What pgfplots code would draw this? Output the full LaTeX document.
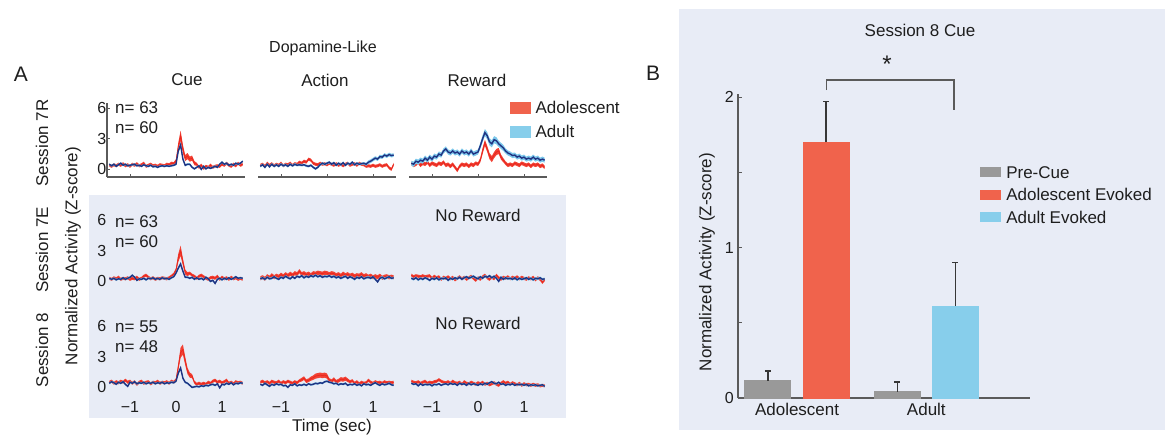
\documentclass[border=0pt]{standalone}
\usepackage{pgfplots}
\pgfplotsset{compat=1.18}
\usepackage{pgfplotstable}
\usepgfplotslibrary{fillbetween}
\usepackage{fontspec}
\setmainfont{Liberation Sans}
\definecolor{bg}{RGB}{232,236,246}
\definecolor{redband}{RGB}{242,66,52}
\definecolor{redline}{RGB}{232,40,32}
\definecolor{blueband}{RGB}{125,200,235}
\definecolor{navy}{RGB}{32,50,130}
\definecolor{axcol}{RGB}{90,90,90}
\definecolor{barred}{RGB}{240,99,76}
\definecolor{barblue}{RGB}{135,206,235}
\definecolor{bargray}{RGB}{153,153,153}
\definecolor{errcol}{RGB}{55,55,55}
\definecolor{txt}{RGB}{30,30,30}
\newcommand{\fs}[1]{\fontsize{#1}{#1}\selectfont}
\newcommand{\tk}[1]{{\fs{16}#1}}
\tikzset{fill between/on layer=main}

% t r rs b bs
\pgfplotstableread{
t r rs b bs
-1.45 0.40 0.15 0.50 0.10
-1.40 0.30 0.15 0.35 0.10
-1.35 0.45 0.15 0.50 0.10
-1.30 0.35 0.15 0.30 0.10
-1.25 0.50 0.15 0.45 0.10
-1.20 0.40 0.15 0.60 0.10
-1.15 0.55 0.15 0.40 0.10
-1.10 0.35 0.15 0.50 0.10
-1.05 0.45 0.15 0.35 0.10
-1.00 0.30 0.15 0.40 0.10
-0.95 0.50 0.15 0.45 0.10
-0.90 0.40 0.15 0.50 0.10
-0.85 0.55 0.15 0.35 0.10
-0.80 0.35 0.15 0.40 0.10
-0.75 0.45 0.15 0.30 0.10
-0.70 0.60 0.15 0.45 0.10
-0.65 0.30 0.15 0.35 0.10
-0.60 0.40 0.15 0.30 0.10
-0.55 0.50 0.15 0.40 0.10
-0.50 0.35 0.15 0.25 0.10
-0.45 0.40 0.15 0.30 0.10
-0.40 0.30 0.15 0.20 0.10
-0.35 0.45 0.15 0.30 0.10
-0.30 0.40 0.15 0.35 0.10
-0.25 0.35 0.15 0.30 0.10
-0.20 0.50 0.15 0.35 0.10
-0.15 0.45 0.15 0.30 0.10
-0.10 0.60 0.15 0.35 0.10
-0.05 0.55 0.15 0.40 0.10
0.00 0.80 0.20 0.50 0.12
0.05 2.20 0.40 1.80 0.20
0.10 3.30 0.50 2.40 0.25
0.15 2.00 0.40 1.00 0.20
0.20 1.10 0.30 0.40 0.12
0.25 1.30 0.30 0.50 0.10
0.30 1.00 0.25 0.50 0.10
0.35 1.10 0.25 0.20 0.10
0.40 0.60 0.20 0.05 0.10
0.45 0.50 0.15 0.20 0.10
0.50 0.20 0.15 0.35 0.10
0.55 0.40 0.15 0.00 0.10
0.60 0.10 0.15 0.30 0.10
0.65 0.30 0.15 0.05 0.10
0.70 0.20 0.15 0.20 0.10
0.75 0.40 0.15 0.10 0.10
0.80 0.20 0.15 0.20 0.10
0.85 0.30 0.15 0.30 0.10
0.90 0.35 0.15 0.20 0.10
0.95 0.30 0.15 0.50 0.10
1.00 0.50 0.15 0.70 0.10
1.05 0.40 0.15 0.50 0.10
1.10 0.60 0.15 0.60 0.10
1.15 0.40 0.15 0.40 0.10
1.20 0.30 0.15 0.50 0.10
1.25 0.50 0.15 0.40 0.10
1.30 0.35 0.15 0.60 0.10
1.35 0.60 0.15 0.50 0.10
1.40 0.40 0.15 0.60 0.10
1.45 0.50 0.15 0.80 0.10
}\tAA

\pgfplotstableread{
t r rs b bs
-1.45 0.40 0.15 0.30 0.12
-1.40 0.50 0.15 0.45 0.12
-1.35 0.30 0.15 0.20 0.12
-1.30 0.60 0.15 0.50 0.12
-1.25 0.40 0.15 0.25 0.12
-1.20 0.55 0.15 0.50 0.12
-1.15 0.35 0.15 0.30 0.12
-1.10 0.50 0.15 0.45 0.12
-1.05 0.40 0.15 0.30 0.12
-1.00 0.60 0.15 0.50 0.12
-0.95 0.35 0.15 0.35 0.12
-0.90 0.50 0.15 0.45 0.12
-0.85 0.45 0.15 0.30 0.12
-0.80 0.60 0.15 0.50 0.12
-0.75 0.40 0.15 0.35 0.12
-0.70 0.55 0.15 0.50 0.12
-0.65 0.50 0.15 0.40 0.12
-0.60 0.70 0.15 0.45 0.12
-0.55 0.60 0.15 0.40 0.12
-0.50 0.80 0.15 0.45 0.12
-0.45 0.70 0.15 0.35 0.12
-0.40 1.00 0.15 0.30 0.12
-0.35 0.90 0.15 0.40 0.12
-0.30 0.60 0.15 0.20 0.12
-0.25 0.50 0.15 0.05 0.12
-0.20 0.45 0.15 0.20 0.12
-0.15 0.60 0.15 0.45 0.12
-0.10 0.50 0.15 0.60 0.12
-0.05 0.55 0.15 0.50 0.12
0.00 0.45 0.15 0.60 0.12
0.05 0.60 0.15 0.70 0.12
0.10 0.50 0.15 0.50 0.12
0.15 0.40 0.15 0.65 0.12
0.20 0.55 0.15 0.40 0.12
0.25 0.40 0.15 0.60 0.12
0.30 0.50 0.15 0.45 0.12
0.35 0.35 0.15 0.65 0.12
0.40 0.50 0.15 0.40 0.12
0.45 0.60 0.15 0.60 0.12
0.50 0.40 0.15 0.50 0.12
0.55 0.50 0.15 0.70 0.12
0.60 0.55 0.15 0.45 0.12
0.65 0.40 0.15 0.60 0.12
0.70 0.60 0.15 0.50 0.12
0.75 0.50 0.15 0.55 0.12
0.80 0.45 0.15 0.60 0.12
0.85 0.30 0.15 0.50 0.15
0.90 0.35 0.15 0.70 0.18
0.95 0.30 0.15 0.80 0.18
1.00 0.40 0.15 0.95 0.18
1.05 0.30 0.15 1.10 0.18
1.10 0.35 0.15 1.00 0.18
1.15 0.45 0.15 1.25 0.18
1.20 0.30 0.15 1.20 0.18
1.25 0.40 0.15 1.40 0.18
1.30 0.45 0.15 1.30 0.18
1.35 0.15 0.15 1.45 0.18
1.40 0.00 0.15 1.35 0.18
1.45 0.50 0.15 1.40 0.18
}\tAB

\pgfplotstableread{
t r rs b bs
-1.45 0.60 0.18 0.60 0.25
-1.40 0.40 0.18 0.50 0.25
-1.35 0.50 0.18 0.80 0.25
-1.30 0.70 0.18 0.70 0.25
-1.25 0.40 0.18 0.90 0.25
-1.20 0.60 0.18 0.80 0.25
-1.15 0.50 0.18 1.10 0.25
-1.10 0.70 0.18 0.90 0.25
-1.05 0.40 0.18 1.20 0.25
-1.00 0.60 0.18 1.00 0.25
-0.95 0.50 0.18 1.30 0.25
-0.90 0.40 0.18 1.20 0.25
-0.85 0.60 0.18 1.50 0.25
-0.80 0.50 0.18 1.40 0.25
-0.75 0.70 0.18 1.80 0.25
-0.70 0.40 0.18 2.00 0.25
-0.65 0.50 0.18 1.70 0.25
-0.60 0.30 0.18 1.60 0.25
-0.55 0.50 0.18 1.80 0.25
-0.50 0.20 0.18 1.60 0.25
-0.45 -0.10 0.18 1.70 0.25
-0.40 0.30 0.18 1.50 0.25
-0.35 0.50 0.18 1.80 0.25
-0.30 0.40 0.18 1.60 0.25
-0.25 0.50 0.18 1.70 0.25
-0.20 0.30 0.18 1.50 0.25
-0.15 0.50 0.18 1.80 0.25
-0.10 0.40 0.18 1.50 0.25
-0.05 0.60 0.18 1.60 0.25
0.00 0.50 0.18 1.70 0.25
0.05 0.90 0.22 2.30 0.30
0.10 1.80 0.30 3.00 0.35
0.15 2.60 0.30 3.60 0.35
0.20 2.00 0.30 3.30 0.35
0.25 1.30 0.30 2.70 0.35
0.30 1.00 0.30 2.50 0.35
0.35 1.40 0.30 2.90 0.35
0.40 1.70 0.30 2.80 0.35
0.45 1.80 0.30 2.50 0.30
0.50 1.20 0.25 2.30 0.30
0.55 0.90 0.20 2.10 0.30
0.60 0.60 0.18 1.80 0.25
0.65 0.40 0.18 1.60 0.25
0.70 0.50 0.18 1.50 0.25
0.75 0.40 0.18 1.35 0.25
0.80 0.60 0.18 1.40 0.25
0.85 0.50 0.18 1.20 0.25
0.90 0.40 0.18 1.30 0.25
0.95 0.60 0.18 1.10 0.25
1.00 0.50 0.18 1.20 0.25
1.05 0.40 0.18 1.00 0.25
1.10 0.50 0.18 1.10 0.25
1.15 0.30 0.18 1.00 0.25
1.20 0.50 0.18 1.20 0.25
1.25 0.40 0.18 1.00 0.25
1.30 0.50 0.18 1.10 0.25
1.35 0.30 0.18 0.90 0.25
1.40 0.40 0.18 1.00 0.25
1.45 0.20 0.18 0.90 0.25
}\tAC

\pgfplotstableread{
t r rs b bs
-1.45 0.30 0.15 0.30 0.10
-1.40 0.20 0.15 0.20 0.10
-1.35 0.35 0.15 0.30 0.10
-1.30 0.25 0.15 0.15 0.10
-1.25 0.40 0.15 0.25 0.10
-1.20 0.20 0.15 0.20 0.10
-1.15 0.30 0.15 0.35 0.10
-1.10 0.25 0.15 0.20 0.10
-1.05 0.35 0.15 0.30 0.10
-1.00 0.20 0.15 0.40 0.10
-0.95 0.30 0.15 0.60 0.10
-0.90 0.25 0.15 0.40 0.10
-0.85 0.40 0.15 0.10 0.10
-0.80 0.20 0.15 0.25 0.10
-0.75 0.30 0.15 0.20 0.10
-0.70 0.50 0.15 0.30 0.10
-0.65 0.60 0.15 0.15 0.10
-0.60 0.40 0.15 0.30 0.10
-0.55 0.25 0.15 0.25 0.10
-0.50 0.35 0.15 0.35 0.10
-0.45 0.20 0.15 0.20 0.10
-0.40 0.30 0.15 0.30 0.10
-0.35 0.25 0.15 0.20 0.10
-0.30 0.35 0.15 0.35 0.10
-0.25 0.30 0.15 0.25 0.10
-0.20 0.25 0.15 0.30 0.10
-0.15 0.35 0.15 0.20 0.10
-0.10 0.50 0.15 0.35 0.10
-0.05 0.70 0.15 0.45 0.10
0.00 1.10 0.20 0.80 0.12
0.05 2.30 0.40 1.30 0.15
0.10 3.00 0.50 1.70 0.20
0.15 1.90 0.35 1.00 0.15
0.20 0.90 0.25 0.40 0.10
0.25 0.70 0.20 0.40 0.10
0.30 0.80 0.15 0.30 0.10
0.35 0.60 0.15 0.40 0.10
0.40 0.50 0.15 0.20 0.10
0.45 0.30 0.15 0.35 0.10
0.50 0.50 0.15 0.20 0.10
0.55 0.60 0.15 0.30 0.10
0.60 0.45 0.15 0.15 0.10
0.65 0.30 0.15 0.40 0.10
0.70 0.20 0.15 0.25 0.10
0.75 0.35 0.15 0.00 0.10
0.80 0.40 0.15 0.10 0.10
0.85 0.30 0.15 -0.20 0.10
0.90 0.50 0.15 0.20 0.10
0.95 0.20 0.15 0.30 0.10
1.00 0.40 0.15 0.15 0.10
1.05 0.25 0.15 0.30 0.10
1.10 0.35 0.15 0.20 0.10
1.15 0.20 0.15 0.35 0.10
1.20 0.40 0.15 0.20 0.10
1.25 0.25 0.15 0.30 0.10
1.30 0.35 0.15 0.45 0.10
1.35 0.20 0.15 0.30 0.10
1.40 0.30 0.15 0.35 0.10
1.45 0.20 0.15 0.30 0.10
}\tBA

\pgfplotstableread{
t r rs b bs
-1.45 0.30 0.20 0.25 0.12
-1.40 0.40 0.20 0.35 0.12
-1.35 0.25 0.20 0.20 0.12
-1.30 0.50 0.20 0.40 0.12
-1.25 0.35 0.20 0.25 0.12
-1.20 0.60 0.20 0.30 0.12
-1.15 0.40 0.20 0.45 0.12
-1.10 0.55 0.20 0.30 0.12
-1.05 0.45 0.20 0.20 0.12
-1.00 0.65 0.20 0.40 0.12
-0.95 0.50 0.20 0.30 0.12
-0.90 0.70 0.20 0.50 0.12
-0.85 0.55 0.20 0.35 0.12
-0.80 0.75 0.20 0.25 0.12
-0.75 0.60 0.20 0.45 0.12
-0.70 0.80 0.20 0.30 0.12
-0.65 0.70 0.20 0.50 0.12
-0.60 1.00 0.20 0.40 0.12
-0.55 0.70 0.20 0.55 0.12
-0.50 0.80 0.20 0.35 0.12
-0.45 0.65 0.20 0.50 0.12
-0.40 0.75 0.20 0.40 0.12
-0.35 0.60 0.20 0.55 0.12
-0.30 0.80 0.20 0.45 0.12
-0.25 0.75 0.20 0.60 0.12
-0.20 0.85 0.20 0.45 0.12
-0.15 0.80 0.20 0.55 0.12
-0.10 0.75 0.20 0.40 0.12
-0.05 0.85 0.20 0.50 0.12
0.00 0.80 0.20 0.45 0.12
0.05 0.70 0.20 0.55 0.12
0.10 0.80 0.20 0.40 0.12
0.15 0.75 0.20 0.50 0.12
0.20 0.60 0.20 0.35 0.12
0.25 0.70 0.20 0.45 0.12
0.30 0.55 0.20 0.30 0.12
0.35 0.75 0.20 0.40 0.12
0.40 0.60 0.20 0.50 0.12
0.45 0.70 0.20 0.30 0.12
0.50 0.55 0.20 0.45 0.12
0.55 0.65 0.20 0.35 0.12
0.60 0.50 0.20 0.20 0.12
0.65 0.60 0.20 0.40 0.12
0.70 0.55 0.20 0.30 0.12
0.75 0.70 0.20 0.45 0.12
0.80 0.50 0.20 0.25 0.12
0.85 0.60 0.20 0.35 0.12
0.90 0.45 0.20 0.40 0.12
0.95 0.55 0.20 0.30 0.12
1.00 0.40 0.20 0.45 0.12
1.05 0.50 0.20 0.20 0.12
1.10 0.40 0.20 -0.05 0.12
1.15 0.55 0.20 0.30 0.12
1.20 0.35 0.20 0.40 0.12
1.25 0.45 0.20 0.25 0.12
1.30 0.50 0.20 0.35 0.12
1.35 0.40 0.20 0.45 0.12
1.40 0.45 0.20 0.30 0.12
1.45 0.40 0.20 0.35 0.12
}\tBB

\pgfplotstableread{
t r rs b bs
-1.45 0.60 0.15 0.30 0.12
-1.40 0.45 0.15 0.20 0.12
-1.35 0.55 0.15 0.35 0.12
-1.30 0.50 0.15 0.15 0.12
-1.25 0.45 0.15 0.30 0.12
-1.20 0.55 0.15 0.20 0.12
-1.15 0.45 0.15 0.35 0.12
-1.10 0.50 0.15 0.25 0.12
-1.05 0.55 0.15 0.10 0.12
-1.00 0.30 0.15 0.30 0.12
-0.95 0.50 0.15 0.20 0.12
-0.90 0.35 0.15 0.35 0.12
-0.85 0.45 0.15 0.15 0.12
-0.80 0.20 0.15 0.30 0.12
-0.75 0.40 0.15 0.25 0.12
-0.70 0.30 0.15 0.35 0.12
-0.65 0.45 0.15 0.10 0.12
-0.60 0.25 0.15 0.30 0.12
-0.55 0.40 0.15 0.20 0.12
-0.50 0.15 0.15 0.35 0.12
-0.45 0.30 0.15 0.25 0.12
-0.40 0.45 0.15 0.40 0.12
-0.35 0.25 0.15 0.20 0.12
-0.30 0.40 0.15 0.35 0.12
-0.25 0.20 0.15 0.45 0.12
-0.20 0.35 0.15 0.30 0.12
-0.15 0.50 0.15 0.40 0.12
-0.10 0.30 0.15 0.50 0.12
-0.05 0.10 0.15 0.35 0.12
0.00 0.35 0.15 0.25 0.12
0.05 0.20 0.15 0.45 0.12
0.10 0.45 0.15 0.30 0.12
0.15 0.60 0.15 0.50 0.12
0.20 0.35 0.15 0.40 0.12
0.25 0.20 0.15 0.55 0.12
0.30 0.40 0.15 0.35 0.12
0.35 0.25 0.15 0.50 0.12
0.40 0.60 0.15 0.30 0.12
0.45 0.35 0.15 0.00 0.12
0.50 0.20 0.15 0.40 0.12
0.55 0.40 0.15 0.20 0.12
0.60 0.30 0.15 0.35 0.12
0.65 0.45 0.15 0.25 0.12
0.70 0.25 0.15 0.30 0.12
0.75 0.40 0.15 0.20 0.12
0.80 0.30 0.15 0.35 0.12
0.85 0.45 0.15 0.15 0.12
0.90 0.25 0.15 0.30 0.12
0.95 0.40 0.15 0.20 0.12
1.00 0.30 0.15 0.25 0.12
1.05 0.20 0.15 0.35 0.12
1.10 0.35 0.15 0.20 0.12
1.15 0.25 0.15 0.30 0.12
1.20 0.40 0.15 0.15 0.12
1.25 0.15 0.15 0.30 0.12
1.30 0.35 0.15 0.25 0.12
1.35 0.20 0.15 0.35 0.12
1.40 -0.10 0.15 0.20 0.12
1.45 0.15 0.15 0.25 0.12
}\tBC

\pgfplotstableread{
t r rs b bs
-1.45 0.50 0.15 0.40 0.10
-1.40 0.60 0.15 0.55 0.10
-1.35 0.40 0.15 0.45 0.10
-1.30 0.55 0.15 0.30 0.10
-1.25 0.45 0.15 0.50 0.10
-1.20 0.60 0.15 0.40 0.10
-1.15 0.50 0.15 0.55 0.10
-1.10 0.70 0.15 0.30 0.10
-1.05 0.50 0.15 0.10 0.10
-1.00 0.60 0.15 0.50 0.10
-0.95 0.40 0.15 0.40 0.10
-0.90 0.55 0.15 0.55 0.10
-0.85 0.30 0.15 0.35 0.10
-0.80 0.50 0.15 0.45 0.10
-0.75 0.60 0.15 0.40 0.10
-0.70 0.40 0.15 0.50 0.10
-0.65 0.50 0.15 0.35 0.10
-0.60 0.55 0.15 0.45 0.10
-0.55 0.35 0.15 0.40 0.10
-0.50 0.50 0.15 0.50 0.10
-0.45 0.45 0.15 0.35 0.10
-0.40 0.60 0.15 0.45 0.10
-0.35 0.40 0.15 0.40 0.10
-0.30 0.50 0.15 0.50 0.10
-0.25 0.45 0.15 0.35 0.10
-0.20 0.55 0.15 0.45 0.10
-0.15 0.40 0.15 0.40 0.10
-0.10 0.60 0.15 0.50 0.10
-0.05 0.50 0.15 0.45 0.10
0.00 0.70 0.18 0.60 0.10
0.05 2.00 0.35 1.40 0.15
0.10 3.40 0.50 1.90 0.18
0.15 3.70 0.50 0.90 0.15
0.20 2.60 0.40 0.50 0.10
0.25 1.60 0.30 0.40 0.10
0.30 1.20 0.25 0.20 0.10
0.35 1.10 0.20 0.00 0.10
0.40 0.50 0.15 0.05 0.10
0.45 0.30 0.15 0.10 0.10
0.50 0.40 0.15 0.05 0.10
0.55 0.30 0.15 0.15 0.10
0.60 0.40 0.15 0.10 0.10
0.65 0.30 0.15 0.20 0.10
0.70 0.50 0.15 0.15 0.10
0.75 0.40 0.15 0.25 0.10
0.80 0.60 0.15 0.30 0.10
0.85 0.70 0.15 0.20 0.10
0.90 0.50 0.15 0.35 0.10
0.95 0.60 0.15 -0.05 0.10
1.00 0.45 0.15 0.30 0.10
1.05 0.55 0.15 0.25 0.10
1.10 0.70 0.15 0.40 0.10
1.15 0.40 0.15 0.30 0.10
1.20 0.50 0.15 0.45 0.10
1.25 0.35 0.15 0.25 0.10
1.30 0.55 0.15 0.40 0.10
1.35 0.45 0.15 0.35 0.10
1.40 0.50 0.15 0.45 0.10
1.45 0.40 0.15 0.40 0.10
}\tCA

\pgfplotstableread{
t r rs b bs
-1.45 0.50 0.15 0.30 0.10
-1.40 0.60 0.15 0.20 0.10
-1.35 0.45 0.15 0.40 0.10
-1.30 0.55 0.15 0.25 0.10
-1.25 0.40 0.15 0.10 0.10
-1.20 0.60 0.15 0.30 0.10
-1.15 0.50 0.15 0.20 0.10
-1.10 0.45 0.15 0.35 0.10
-1.05 0.60 0.15 0.25 0.10
-1.00 0.40 0.15 0.30 0.10
-0.95 0.55 0.15 0.15 0.10
-0.90 0.45 0.15 0.20 0.10
-0.85 0.60 0.15 0.00 0.10
-0.80 0.50 0.15 0.25 0.10
-0.75 0.40 0.15 0.20 0.10
-0.70 0.55 0.15 0.35 0.10
-0.65 0.45 0.15 0.15 0.10
-0.60 0.65 0.15 0.25 0.10
-0.55 0.75 0.18 0.20 0.10
-0.50 0.90 0.18 0.30 0.10
-0.45 0.60 0.18 0.20 0.10
-0.40 0.70 0.18 0.35 0.10
-0.35 0.85 0.20 0.25 0.10
-0.30 0.95 0.22 0.30 0.10
-0.25 1.10 0.25 0.40 0.10
-0.20 1.15 0.25 0.35 0.10
-0.15 1.20 0.25 0.45 0.10
-0.10 1.15 0.25 0.40 0.10
-0.05 1.20 0.25 0.55 0.10
0.00 1.10 0.25 0.60 0.10
0.05 0.70 0.20 0.50 0.10
0.10 0.60 0.18 0.45 0.10
0.15 0.80 0.18 0.35 0.10
0.20 0.55 0.18 0.40 0.10
0.25 0.65 0.18 0.25 0.10
0.30 0.80 0.20 0.35 0.10
0.35 0.75 0.20 0.30 0.10
0.40 0.85 0.20 0.40 0.10
0.45 0.70 0.18 0.20 0.10
0.50 0.55 0.15 0.30 0.10
0.55 0.65 0.15 0.25 0.10
0.60 0.40 0.15 0.35 0.10
0.65 0.55 0.15 0.20 0.10
0.70 0.35 0.15 0.30 0.10
0.75 0.50 0.15 0.15 0.10
0.80 0.40 0.15 0.35 0.10
0.85 0.45 0.15 0.25 0.10
0.90 0.70 0.15 0.30 0.10
0.95 0.50 0.15 0.20 0.10
1.00 0.40 0.15 0.35 0.10
1.05 0.55 0.15 0.45 0.10
1.10 0.45 0.15 0.30 0.10
1.15 0.50 0.15 0.20 0.10
1.20 0.40 0.15 0.35 0.10
1.25 0.55 0.15 0.25 0.10
1.30 0.45 0.15 0.30 0.10
1.35 0.50 0.15 0.40 0.10
1.40 0.45 0.15 0.25 0.10
1.45 0.50 0.15 0.20 0.10
}\tCB

\pgfplotstableread{
t r rs b bs
-1.45 0.60 0.15 0.40 0.10
-1.40 0.50 0.15 0.30 0.10
-1.35 0.45 0.15 0.35 0.10
-1.30 0.55 0.15 0.15 0.10
-1.25 0.40 0.15 0.35 0.10
-1.20 0.50 0.15 0.20 0.10
-1.15 0.60 0.15 0.30 0.10
-1.10 0.40 0.15 0.25 0.10
-1.05 0.50 0.15 0.30 0.10
-1.00 0.45 0.15 0.15 0.10
-0.95 0.55 0.15 0.30 0.10
-0.90 0.60 0.15 0.25 0.10
-0.85 0.75 0.15 0.35 0.10
-0.80 0.60 0.15 0.20 0.10
-0.75 0.50 0.15 0.30 0.10
-0.70 0.45 0.15 0.35 0.10
-0.65 0.55 0.15 0.25 0.10
-0.60 0.40 0.15 0.40 0.10
-0.55 0.60 0.15 0.30 0.10
-0.50 0.45 0.15 0.35 0.10
-0.45 0.40 0.15 0.20 0.10
-0.40 0.50 0.15 0.40 0.10
-0.35 0.30 0.15 0.30 0.10
-0.30 0.55 0.15 0.35 0.10
-0.25 0.40 0.15 0.20 0.10
-0.20 0.35 0.15 0.40 0.10
-0.15 0.50 0.15 0.25 0.10
-0.10 0.40 0.15 0.35 0.10
-0.05 0.30 0.15 0.30 0.10
0.00 0.45 0.15 0.20 0.10
0.05 0.35 0.15 0.35 0.10
0.10 0.50 0.15 0.25 0.10
0.15 0.30 0.15 0.40 0.10
0.20 0.40 0.15 0.30 0.10
0.25 0.25 0.15 0.45 0.10
0.30 0.35 0.15 0.55 0.10
0.35 0.45 0.15 0.40 0.10
0.40 0.30 0.15 0.35 0.10
0.45 0.20 0.15 0.50 0.10
0.50 0.40 0.15 0.30 0.10
0.55 0.55 0.15 0.35 0.10
0.60 0.40 0.15 0.20 0.10
0.65 0.50 0.15 0.30 0.10
0.70 0.30 0.15 0.25 0.10
0.75 0.45 0.15 0.35 0.10
0.80 0.35 0.15 0.20 0.10
0.85 0.25 0.15 0.30 0.10
0.90 0.40 0.15 0.25 0.10
0.95 0.20 0.15 0.30 0.10
1.00 0.35 0.15 0.20 0.10
1.05 0.25 0.15 0.30 0.10
1.10 0.30 0.15 0.15 0.10
1.15 0.20 0.15 0.25 0.10
1.20 0.30 0.15 0.20 0.10
1.25 0.20 0.15 0.25 0.10
1.30 0.25 0.15 0.15 0.10
1.35 0.15 0.15 0.20 0.10
1.40 0.20 0.15 0.25 0.10
1.45 0.15 0.15 0.10 0.10
}\tCC

\pgfplotstableread{
x y e
0.775 0.113 0.067
1.775 0.040 0.066
}\preCue
\pgfplotstableread{
x y e
1.225 1.700 0.270
}\adoEv
\pgfplotstableread{
x y e
2.225 0.610 0.290
}\adtEv

% #1 table, #2 unique prefix for path names
\newcommand{\traces}[2]{%
  \addplot[draw=none, name path=#2ru, forget plot] table[x=t, y expr=\thisrow{r}+\thisrow{rs}] {#1};
  \addplot[draw=none, name path=#2rl, forget plot] table[x=t, y expr=\thisrow{r}-\thisrow{rs}] {#1};
  \addplot[fill=redband, draw=none, forget plot] fill between[of=#2ru and #2rl];
  \addplot[draw=redline, line width=0.8pt, forget plot] table[x=t, y=r] {#1};
  \addplot[draw=none, name path=#2bu, forget plot] table[x=t, y expr=\thisrow{b}+\thisrow{bs}] {#1};
  \addplot[draw=none, name path=#2bl, forget plot] table[x=t, y expr=\thisrow{b}-\thisrow{bs}] {#1};
  \addplot[fill=blueband, draw=none, forget plot] fill between[of=#2bu and #2bl];
  \addplot[draw=navy, line width=1.4pt, forget plot] table[x=t, y=b] {#1};
}

\pgfplotsset{
  trbase/.style={scale only axis, width=138pt, height=74pt,
    xmin=-1.5, xmax=1.5, ymin=-0.75, ymax=6.5,
    axis x line*=bottom,
    xtick={-1,0,1}, xticklabels={}, ytick={0,3,6},
    tick align=inside, major tick length=2.5pt,
    every tick/.style={axcol, line width=1pt},
    axis line style={axcol, line width=1.4pt},
    xticklabel style={text=txt, inner sep=1pt, yshift=-5pt},
    yticklabel style={text=txt, inner sep=0.5pt},
    anchor=south west},
  tr/.style={trbase, axis y line=none},
  trL/.style={trbase, axis y line*=left, yticklabels={\tk{0},\tk{3},\tk{6}}},
  trB/.style={xticklabels={\tk{−1},\tk{0},\tk{1}}},
}

\begin{document}
\begin{tikzpicture}
\begin{scope}[x=1pt, y=-1pt]
\path[use as bounding box] (0,0) rectangle (1165,441);
\fill[bg] (89,195) rectangle (566,418);
\fill[bg] (679,9) rectangle (1165,430);
\begin{scope}[every node/.style={inner sep=0pt, text=txt}]
\node[font=\fs{21}] at (21,74) {A};
\node[font=\fs{16}] at (323,48) {Dopamine-Like};
\node[font=\fs{17}] at (187,80) {Cue};
\node[font=\fs{17}] at (325,80) {Action};
\node[font=\fs{17}] at (477,80) {Reward};
\node[font=\fs{17}, rotate=90] at (42,143) {Session 7R};
\node[font=\fs{17}, rotate=90] at (42,250) {Session 7E};
\node[font=\fs{17}, rotate=90] at (42,350) {Session 8};
\node[font=\fs{17}, rotate=90] at (73,256) {Normalized Activity (Z-score)};
\node[font=\fs{17}, anchor=west] at (115,108) {n= 63};
\node[font=\fs{17}, anchor=west] at (115,128) {n= 60};
\node[font=\fs{17}, anchor=west] at (115,222) {n= 63};
\node[font=\fs{17}, anchor=west] at (115,242) {n= 60};
\node[font=\fs{17}, anchor=west] at (115,327) {n= 55};
\node[font=\fs{17}, anchor=west] at (115,347) {n= 48};
\node[font=\fs{17}] at (478,215) {No Reward};
\node[font=\fs{17}] at (478,323) {No Reward};
\node[font=\fs{17}] at (332,427) {Time (sec)};
\node[font=\fs{21}] at (653,73) {B};
\node[font=\fs{17}] at (920,30) {Session 8 Cue};
\node[font=\fs{24}] at (887,64) {*};
\node[font=\fs{17}, rotate=90] at (707,262) {Normalized Activity (Z-score)};
\end{scope}
\end{scope}

% Row 1
\begin{axis}[trL, at={(107pt,-177pt)}]
\traces{\tAA}{aa}
\end{axis}
\begin{axis}[tr, at={(258pt,-177pt)}]
\traces{\tAB}{ab}
\end{axis}
\begin{axis}[tr, at={(409pt,-177pt)},
  legend style={at={(0.732,1.04)}, anchor=north west, draw=none, fill=none,
    inner sep=0pt, font=\fs{17}, row sep=10pt,
    nodes={inner xsep=5pt, inner ysep=1pt, text height=12pt, text depth=0pt, text=txt}},
  legend cell align=left]
\addlegendimage{legend image code/.code={\fill[barred] (0pt,-5.5pt) rectangle (20pt,5.5pt);}}
\addlegendentry{Adolescent}
\addlegendimage{legend image code/.code={\fill[barblue] (0pt,-5.5pt) rectangle (20pt,5.5pt);}}
\addlegendentry{Adult}
\traces{\tAC}{ac}
\end{axis}

% Row 2
\begin{axis}[trL, at={(107pt,-289pt)}]
\traces{\tBA}{ba}
\end{axis}
\begin{axis}[tr, at={(258pt,-289pt)}]
\traces{\tBB}{bb}
\end{axis}
\begin{axis}[tr, at={(409pt,-289pt)}]
\traces{\tBC}{bc}
\end{axis}

% Row 3
\begin{axis}[trL, trB, at={(107pt,-395pt)}]
\traces{\tCA}{ca}
\end{axis}
\begin{axis}[tr, trB, at={(258pt,-395pt)}]
\traces{\tCB}{cb}
\end{axis}
\begin{axis}[tr, trB, at={(409pt,-395pt)}]
\traces{\tCC}{cc}
\end{axis}

% Panel B
\begin{axis}[at={(738pt,-398pt)}, anchor=south west, scale only axis,
  width=292pt, height=304pt,
  xmin=0.543, xmax=2.802, ymin=0, ymax=2.02,
  axis x line*=bottom, axis y line*=left,
  xtick={1,2}, xticklabels={{\fs{17}Adolescent},{\fs{17}Adult}},
  xticklabel style={text=txt, inner sep=1pt, yshift=-4pt},
  major x tick style={draw=none},
  ytick={0,1,2}, yticklabels={\tk{0},\tk{1},\tk{2}}, minor ytick={0.5,1.5},
  yticklabel style={text=txt, inner sep=1pt, xshift=-3pt},
  tick align=inside, major tick length=4pt, minor tick length=4pt,
  every tick/.style={axcol, line width=1pt},
  axis line style={axcol, line width=1.4pt},
  clip=false,
  legend style={at={(0.829,0.766)}, anchor=north west, draw=none, fill=none,
    inner sep=0pt, font=\fs{17}, row sep=8.5pt,
    nodes={inner xsep=6pt, inner ysep=1pt, text height=12pt, text depth=0pt, text=txt}},
  legend cell align=left]
\addplot[ybar, bar width=46pt, bar shift=0pt, fill=bargray, draw=bargray, line width=0pt,
  legend image code/.code={\fill[bargray] (0pt,-4.5pt) rectangle (20pt,4.5pt);},
  error bars/.cd, y dir=plus, y explicit,
  error bar style={draw=errcol, line width=1.4pt},
  error mark options={draw=errcol, rotate=90, line width=1.4pt, mark size=3pt}]
  table[x=x, y=y, y error=e] {\preCue};
\addlegendentry{Pre-Cue}
\addplot[ybar, bar width=46pt, bar shift=0pt, fill=barred, draw=barred, line width=0pt,
  legend image code/.code={\fill[barred] (0pt,-4.5pt) rectangle (20pt,4.5pt);},
  error bars/.cd, y dir=plus, y explicit,
  error bar style={draw=errcol, line width=1.4pt},
  error mark options={draw=errcol, rotate=90, line width=1.4pt, mark size=3pt}]
  table[x=x, y=y, y error=e] {\adoEv};
\addlegendentry{Adolescent Evoked}
\addplot[ybar, bar width=46pt, bar shift=0pt, fill=barblue, draw=barblue, line width=0pt,
  legend image code/.code={\fill[barblue] (0pt,-4.5pt) rectangle (20pt,4.5pt);},
  error bars/.cd, y dir=plus, y explicit,
  error bar style={draw=errcol, line width=1.4pt},
  error mark options={draw=errcol, rotate=90, line width=1.4pt, mark size=3pt}]
  table[x=x, y=y, y error=e] {\adtEv};
\addlegendentry{Adult Evoked}
\draw[axcol, line width=1.3pt] (axis cs:1.225,2.046) -- (axis cs:1.225,2.113)
  -- (axis cs:2.215,2.113) -- (axis cs:2.215,1.914);
\end{axis}
\end{tikzpicture}
\end{document}
